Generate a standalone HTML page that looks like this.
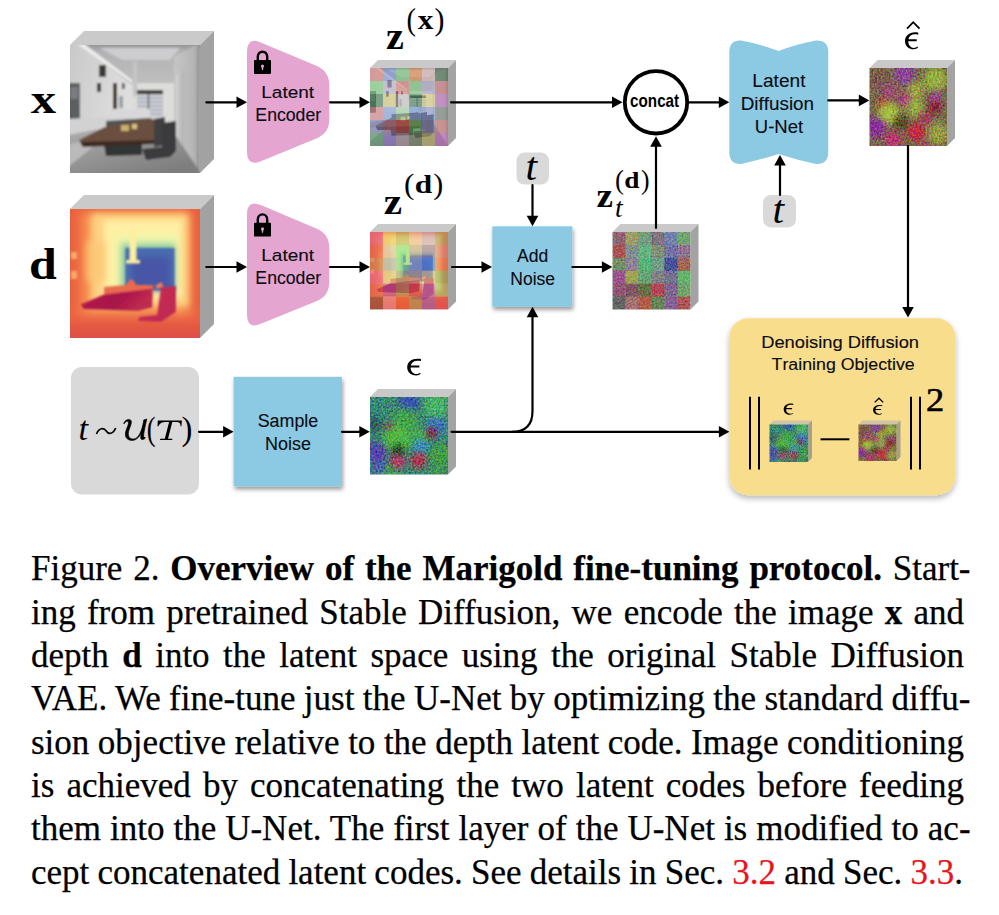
<!DOCTYPE html>
<html><head><meta charset="utf-8">
<style>
html,body{margin:0;padding:0;background:#fff;}
#root{position:relative;width:999px;height:915px;overflow:hidden;background:#fff;}
.cl{position:absolute;left:31px;font-family:"Liberation Serif",serif;font-size:35px;line-height:38px;color:#000;white-space:nowrap;-webkit-text-stroke:0.25px #000;}
.cl b{font-weight:bold;}
.r{color:#e8141c;-webkit-text-stroke-color:#e8141c;}
svg text{}
</style></head><body><div id="root">
<svg id="dg" width="999" height="520" viewBox="0 0 999 520" style="position:absolute;left:0;top:0">
<defs>
 <filter id="shadow" x="-10%" y="-10%" width="130%" height="130%"><feGaussianBlur in="SourceAlpha" stdDeviation="2"/><feOffset dx="1" dy="3"/><feComponentTransfer><feFuncA type="linear" slope="0.4"/></feComponentTransfer><feMerge><feMergeNode/><feMergeNode in="SourceGraphic"/></feMerge></filter>
<filter id="shadow2" x="-10%" y="-10%" width="130%" height="130%"><feGaussianBlur in="SourceAlpha" stdDeviation="3"/><feOffset dx="0" dy="3"/><feComponentTransfer><feFuncA type="linear" slope="0.3"/></feComponentTransfer><feMerge><feMergeNode/><feMergeNode in="SourceGraphic"/></feMerge></filter>
</defs>
<text transform="translate(30.80 113.40) scale(1.1943 1)" font-family="Liberation Serif" font-weight="bold" font-style="normal" font-size="42.49" fill="#000" style="font-kerning:none" >x</text>
<text transform="translate(28.88 279.18) scale(1.1488 1)" font-family="Liberation Serif" font-weight="bold" font-style="normal" font-size="43.49" fill="#000" style="font-kerning:none" >d</text>
<polygon points="70,45 84,31 214,31 200,45" fill="#cacaca"/>
<polygon points="200,45 214,31 214,159 200,173" fill="#a2a2a2"/>
<svg x="70" y="45" width="130" height="128" viewBox="0 0 100 100" preserveAspectRatio="none"></svg>

<svg x="70" y="45" width="130" height="128" viewBox="0 0 130 128" preserveAspectRatio="none" >
 <defs>
  <linearGradient id="kkfl" x1="0" y1="0" x2="0.6" y2="1">
   <stop offset="0" stop-color="#b4b4b4"/><stop offset="1" stop-color="#7e7e7e"/>
  </linearGradient>
  <linearGradient id="kkwall" x1="0" y1="0" x2="1" y2="0">
   <stop offset="0" stop-color="#c6c6c6"/><stop offset="0.8" stop-color="#b4b4b4"/><stop offset="1" stop-color="#8a8a8a"/>
  </linearGradient>
  <linearGradient id="kklw" x1="0" y1="0" x2="1" y2="0.3">
   <stop offset="0" stop-color="#c8c8c8"/><stop offset="1" stop-color="#dedede"/>
  </linearGradient>
  <linearGradient id="kkceil" x1="0" y1="0" x2="0" y2="1">
   <stop offset="0" stop-color="#8e8e8e"/><stop offset="0.12" stop-color="#b2b2b4"/><stop offset="1" stop-color="#cacac8"/>
  </linearGradient>
  <filter id="kkb" x="-5%" y="-5%" width="110%" height="110%"><feGaussianBlur stdDeviation="1.1"/></filter>
 </defs>
 <rect width="130" height="128" fill="#c8c8c8"/>
 <g filter="url(#kkb)">
 <rect x="-2" y="-2" width="134" height="70" fill="url(#kkceil)"/>
 <polygon points="30,3 110,3 100,15 52,15" fill="#cdcdd0"/>
 <rect x="62" y="38" width="44" height="40" fill="#dcdcda"/>
 <polygon points="-2,-2 8,-2 62,40 62,78 -2,80" fill="url(#kklw)"/>
 <polygon points="6,-2 13,-2 62,35 62,38" fill="#eeeeee"/>
 <rect x="-2" y="38" width="12" height="36" fill="#5c5e60"/>
 <rect x="0" y="42" width="8" height="12" fill="#7a7c80"/>
 <rect x="29" y="20" width="7" height="12" fill="#3e3a36"/>
 <rect x="27" y="38" width="4" height="9" fill="#2e2e2e"/>
 <rect x="43" y="38" width="4" height="27" fill="#3e2c22"/>
 <rect x="52" y="38" width="2.5" height="6" fill="#3a3a3a"/>
 <rect x="49" y="51" width="4" height="12" fill="#9aa0a8"/>
 <polygon points="104,12 130,-2 130,130 104,100" fill="url(#kkwall)"/>
 <line x1="107" y1="30" x2="107" y2="95" stroke="#d8d8d8" stroke-width="1.5"/>
 <line x1="113" y1="26" x2="113" y2="104" stroke="#a4a4a4" stroke-width="0.8"/>
 <rect x="63" y="17" width="4" height="34" fill="#c4c4c4"/>
 <rect x="67" y="45" width="26" height="4.5" fill="#3a3a3a"/>
 <rect x="67" y="49.5" width="26" height="24" fill="#cfd2d8"/>
 <g stroke="#9094a0" stroke-width="1">
  <line x1="67" y1="53" x2="93" y2="53"/><line x1="67" y1="57" x2="93" y2="57"/><line x1="67" y1="61" x2="93" y2="61"/><line x1="67" y1="65" x2="93" y2="65"/><line x1="67" y1="69" x2="93" y2="69"/>
 </g>
 <line x1="78.5" y1="49" x2="78.5" y2="74" stroke="#303030" stroke-width="1.2"/>
 <polygon points="-2,84 62,76 104,88 132,130 -2,130" fill="url(#kkfl)"/>
 <polygon points="-2,74 62,70 62,78 -2,90" fill="#d2d2d2"/>
 <polygon points="-2,100 40,88 -2,122" fill="#bababa"/>
 <rect x="40" y="64" width="40" height="9" fill="#d8d8da"/>
 <polygon points="36,76 80,73 80,82 36,84" fill="#505254"/>
 <polygon points="34,100 72,98 72,110 36,111" fill="#333435"/>
 <polygon points="9,95 35,82 80,73 84,75 84,98 12,100" fill="#6a5040"/>
 <polygon points="10,97 84,95 84,99 13,102" fill="#3e2c22"/>
 <rect x="51" y="80" width="8" height="6" fill="#c8b070"/><rect x="62" y="79" width="5" height="5" fill="#d8c080"/>
 <polygon points="84,74 95,72 95,100 84,102" fill="#404042"/>
 <polygon points="92,78 106,76 106,106 100,112 92,113" fill="#3a3b3c"/>
 <polygon points="72,104 92,102 92,113 76,115" fill="#3a3b3c"/>
 <line x1="74" y1="116" x2="100" y2="114" stroke="#8a8a8a" stroke-width="0.8"/>
 </g>
</svg>
<polygon points="70,209 84,195 214,195 200,209" fill="#cacaca"/>
<polygon points="200,209 214,195 214,324 200,338" fill="#a2a2a2"/>
<svg x="70" y="209" width="130" height="129" viewBox="0 0 100 100" preserveAspectRatio="none"></svg>

<svg x="70" y="209" width="130" height="129" viewBox="0 0 130 129" preserveAspectRatio="none" >
 <defs>
  <filter id="ddb5" x="-30%" y="-30%" width="160%" height="160%"><feGaussianBlur stdDeviation="5"/></filter>
  <filter id="ddb3" x="-30%" y="-30%" width="160%" height="160%"><feGaussianBlur stdDeviation="3"/></filter>
  <filter id="ddb1" x="-10%" y="-10%" width="120%" height="120%"><feGaussianBlur stdDeviation="0.9"/></filter>
  <linearGradient id="ddfl" x1="0" y1="0" x2="0" y2="1">
   <stop offset="0" stop-color="#ee7048" stop-opacity="0"/><stop offset="0.5" stop-color="#e65a42"/><stop offset="1" stop-color="#d84848"/>
  </linearGradient>
  <linearGradient id="ddtb" x1="0" y1="0" x2="1" y2="0.3">
   <stop offset="0" stop-color="#b8204c"/><stop offset="0.6" stop-color="#a8124a"/><stop offset="1" stop-color="#c02c50"/>
  </linearGradient>
 </defs>
 <rect width="130" height="129" fill="#e8603e"/>
 <g filter="url(#ddb5)">
  <rect x="8" y="2" width="114" height="112" fill="#f47e4a"/>
  <rect x="18" y="5" width="100" height="100" fill="#f9a85e"/>
 </g>
 <g filter="url(#ddb3)">
  <rect x="22" y="5" width="96" height="92" fill="#fdd080"/>
  <rect x="34" y="11" width="78" height="78" fill="#fef0a4"/>
  <rect x="46" y="26" width="62" height="58" fill="#eef6ac"/>
  <rect x="50" y="33" width="56" height="50" fill="#b8e2a2"/>
  <rect x="53" y="37" width="52" height="44" fill="#6cbaa8"/>
 </g>
 <g filter="url(#ddb1)">
  <rect x="55.5" y="39" width="49" height="42" fill="#4a6cb0"/>
 </g>
 <g filter="url(#ddb3)">
  <rect x="62" y="48" width="38" height="32" fill="#4656a6"/>
  <rect x="16" y="32" width="20" height="40" fill="#fbc878" opacity="0.7"/>
 </g>
 <g filter="url(#ddb1)">
  <rect x="1" y="43" width="6" height="7" fill="#f8a868"/>
  <rect x="1" y="62" width="6" height="8" fill="#f8a868"/>
  <rect x="59.5" y="20" width="7" height="34" fill="#fdeea0"/>
  <rect x="56" y="51" width="14" height="3.5" fill="#fdeea0"/>
  <rect x="-5" y="96" width="140" height="40" fill="url(#ddfl)"/>
  <polygon points="34,78 56,76 60,70 64,72 66,76 83,76 83,90 34,90" fill="#e96a4e"/>
  <polygon points="10.7,95.6 34,85.4 82.4,79.5 82.4,98.5 67.8,102 13.6,100" fill="url(#ddtb)"/>
  <polygon points="86,76 92,73 93,78 86,80" fill="#f07a58"/>
  <polygon points="91,78 106,77 106,103 91,113 68,112 69,108 87,106" fill="#c22a52"/>
 </g>
</svg>
<path d="M247.00,51.60 Q247.00,36.60 260.83,42.40 L316.39,65.69 Q329.30,71.10 329.30,85.10 L329.30,119.20 Q329.30,133.20 316.34,138.49 L260.89,161.13 Q247.00,166.80 247.00,151.80 Z" fill="#e4a5d0" />
<path d="M257.8,60.5 L257.8,56.7 A4.7,5 0 0 1 267.2,56.7 L267.2,60.5" fill="none" stroke="#000" stroke-width="2.4"/><rect x="254" y="60.1" width="17" height="13.8" rx="0.8" fill="#000"/><circle cx="262.5" cy="66.1" r="1.5" fill="#e4a5d0"/><polygon points="261.6,66.3 263.4,66.3 263.1,70.1 261.9,70.1" fill="#e4a5d0"/>
<text transform="translate(261.24 97.80) scale(1.1093 1)" font-family="Liberation Sans" font-weight="normal" font-style="normal" font-size="17.15" fill="#0d0d14" style="font-kerning:none" stroke="#000" stroke-width="0.12">Latent</text>
<text transform="translate(255.35 120.80) scale(0.9704 1)" font-family="Liberation Sans" font-weight="normal" font-style="normal" font-size="18.22" fill="#0d0d14" style="font-kerning:none" stroke="#000" stroke-width="0.12">Encoder</text>
<path d="M247.00,214.30 Q247.00,199.30 260.83,205.10 L316.39,228.39 Q329.30,233.80 329.30,247.80 L329.30,281.90 Q329.30,295.90 316.34,301.19 L260.89,323.83 Q247.00,329.50 247.00,314.50 Z" fill="#e4a5d0" />
<path d="M257.8,223.2 L257.8,219.39999999999998 A4.7,5 0 0 1 267.2,219.39999999999998 L267.2,223.2" fill="none" stroke="#000" stroke-width="2.4"/><rect x="254" y="222.79999999999998" width="17" height="13.8" rx="0.8" fill="#000"/><circle cx="262.5" cy="228.79999999999998" r="1.5" fill="#e4a5d0"/><polygon points="261.6,229.0 263.4,229.0 263.1,232.79999999999998 261.9,232.79999999999998" fill="#e4a5d0"/>
<text transform="translate(261.24 260.50) scale(1.1093 1)" font-family="Liberation Sans" font-weight="normal" font-style="normal" font-size="17.15" fill="#0d0d14" style="font-kerning:none" stroke="#000" stroke-width="0.12">Latent</text>
<text transform="translate(255.35 283.50) scale(0.9704 1)" font-family="Liberation Sans" font-weight="normal" font-style="normal" font-size="18.22" fill="#0d0d14" style="font-kerning:none" stroke="#000" stroke-width="0.12">Encoder</text>
<polygon points="370,68 378,60 456,60 448,68" fill="#c9c9c9"/>
<polygon points="448,68 456,60 456,138 448,146" fill="#a3a3a3"/>
<svg x="370" y="68" width="78" height="78" viewBox="0 0 100 100" preserveAspectRatio="none"><rect x="0.000" y="0.000" width="16.967" height="16.967" fill="#d87a78"/><rect x="16.667" y="0.000" width="16.967" height="16.967" fill="#7b93d6"/><rect x="33.333" y="0.000" width="16.967" height="16.967" fill="#73c477"/><rect x="50.000" y="0.000" width="16.967" height="16.967" fill="#e0843f"/><rect x="66.667" y="0.000" width="16.967" height="16.967" fill="#d8b3b3"/><rect x="83.333" y="0.000" width="16.967" height="16.967" fill="#3f6a45"/><rect x="0.000" y="16.667" width="16.967" height="16.967" fill="#78d27c"/><rect x="16.667" y="16.667" width="16.967" height="16.967" fill="#b9b3d6"/><rect x="33.333" y="16.667" width="16.967" height="16.967" fill="#d87a74"/><rect x="50.000" y="16.667" width="16.967" height="16.967" fill="#74c878"/><rect x="66.667" y="16.667" width="16.967" height="16.967" fill="#aaa3c4"/><rect x="83.333" y="16.667" width="16.967" height="16.967" fill="#d27478"/><rect x="0.000" y="33.333" width="16.967" height="16.967" fill="#3f8052"/><rect x="16.667" y="33.333" width="16.967" height="16.967" fill="#d8cc78"/><rect x="33.333" y="33.333" width="16.967" height="16.967" fill="#c8c4c4"/><rect x="50.000" y="33.333" width="16.967" height="16.967" fill="#4f8a62"/><rect x="66.667" y="33.333" width="16.967" height="16.967" fill="#d8cc7a"/><rect x="83.333" y="33.333" width="16.967" height="16.967" fill="#c874c8"/><rect x="0.000" y="50.000" width="16.967" height="16.967" fill="#d88486"/><rect x="16.667" y="50.000" width="16.967" height="16.967" fill="#84a4e0"/><rect x="33.333" y="50.000" width="16.967" height="16.967" fill="#a8d4a8"/><rect x="50.000" y="50.000" width="16.967" height="16.967" fill="#6a94d6"/><rect x="66.667" y="50.000" width="16.967" height="16.967" fill="#8a98d6"/><rect x="83.333" y="50.000" width="16.967" height="16.967" fill="#7e8a80"/><rect x="0.000" y="66.667" width="16.967" height="16.967" fill="#7a7fb6"/><rect x="16.667" y="66.667" width="16.967" height="16.967" fill="#a06a86"/><rect x="33.333" y="66.667" width="16.967" height="16.967" fill="#c04848"/><rect x="50.000" y="66.667" width="16.967" height="16.967" fill="#52a456"/><rect x="66.667" y="66.667" width="16.967" height="16.967" fill="#8a86b8"/><rect x="83.333" y="66.667" width="16.967" height="16.967" fill="#d07676"/><rect x="0.000" y="83.333" width="16.967" height="16.967" fill="#549a66"/><rect x="16.667" y="83.333" width="16.967" height="16.967" fill="#8266c4"/><rect x="33.333" y="83.333" width="16.967" height="16.967" fill="#a48896"/><rect x="50.000" y="83.333" width="16.967" height="16.967" fill="#687a56"/><rect x="66.667" y="83.333" width="16.967" height="16.967" fill="#c2b464"/><rect x="83.333" y="83.333" width="16.967" height="16.967" fill="#c668c6"/>
<svg x="0" y="0" width="100" height="100" viewBox="0 0 130 128" preserveAspectRatio="none" opacity="0.42">
 <defs>
  <linearGradient id="k2kfl" x1="0" y1="0" x2="0.6" y2="1">
   <stop offset="0" stop-color="#b4b4b4"/><stop offset="1" stop-color="#7e7e7e"/>
  </linearGradient>
  <linearGradient id="k2kwall" x1="0" y1="0" x2="1" y2="0">
   <stop offset="0" stop-color="#c6c6c6"/><stop offset="0.8" stop-color="#b4b4b4"/><stop offset="1" stop-color="#8a8a8a"/>
  </linearGradient>
  <linearGradient id="k2klw" x1="0" y1="0" x2="1" y2="0.3">
   <stop offset="0" stop-color="#c8c8c8"/><stop offset="1" stop-color="#dedede"/>
  </linearGradient>
  <linearGradient id="k2kceil" x1="0" y1="0" x2="0" y2="1">
   <stop offset="0" stop-color="#8e8e8e"/><stop offset="0.12" stop-color="#b2b2b4"/><stop offset="1" stop-color="#cacac8"/>
  </linearGradient>
  <filter id="k2kb" x="-5%" y="-5%" width="110%" height="110%"><feGaussianBlur stdDeviation="1.1"/></filter>
 </defs>
 <rect width="130" height="128" fill="#c8c8c8"/>
 <g filter="url(#k2kb)">
 <rect x="-2" y="-2" width="134" height="70" fill="url(#k2kceil)"/>
 <polygon points="30,3 110,3 100,15 52,15" fill="#cdcdd0"/>
 <rect x="62" y="38" width="44" height="40" fill="#dcdcda"/>
 <polygon points="-2,-2 8,-2 62,40 62,78 -2,80" fill="url(#k2klw)"/>
 <polygon points="6,-2 13,-2 62,35 62,38" fill="#eeeeee"/>
 <rect x="-2" y="38" width="12" height="36" fill="#5c5e60"/>
 <rect x="0" y="42" width="8" height="12" fill="#7a7c80"/>
 <rect x="29" y="20" width="7" height="12" fill="#3e3a36"/>
 <rect x="27" y="38" width="4" height="9" fill="#2e2e2e"/>
 <rect x="43" y="38" width="4" height="27" fill="#3e2c22"/>
 <rect x="52" y="38" width="2.5" height="6" fill="#3a3a3a"/>
 <rect x="49" y="51" width="4" height="12" fill="#9aa0a8"/>
 <polygon points="104,12 130,-2 130,130 104,100" fill="url(#k2kwall)"/>
 <line x1="107" y1="30" x2="107" y2="95" stroke="#d8d8d8" stroke-width="1.5"/>
 <line x1="113" y1="26" x2="113" y2="104" stroke="#a4a4a4" stroke-width="0.8"/>
 <rect x="63" y="17" width="4" height="34" fill="#c4c4c4"/>
 <rect x="67" y="45" width="26" height="4.5" fill="#3a3a3a"/>
 <rect x="67" y="49.5" width="26" height="24" fill="#cfd2d8"/>
 <g stroke="#9094a0" stroke-width="1">
  <line x1="67" y1="53" x2="93" y2="53"/><line x1="67" y1="57" x2="93" y2="57"/><line x1="67" y1="61" x2="93" y2="61"/><line x1="67" y1="65" x2="93" y2="65"/><line x1="67" y1="69" x2="93" y2="69"/>
 </g>
 <line x1="78.5" y1="49" x2="78.5" y2="74" stroke="#303030" stroke-width="1.2"/>
 <polygon points="-2,84 62,76 104,88 132,130 -2,130" fill="url(#k2kfl)"/>
 <polygon points="-2,74 62,70 62,78 -2,90" fill="#d2d2d2"/>
 <polygon points="-2,100 40,88 -2,122" fill="#bababa"/>
 <rect x="40" y="64" width="40" height="9" fill="#d8d8da"/>
 <polygon points="36,76 80,73 80,82 36,84" fill="#505254"/>
 <polygon points="34,100 72,98 72,110 36,111" fill="#333435"/>
 <polygon points="9,95 35,82 80,73 84,75 84,98 12,100" fill="#6a5040"/>
 <polygon points="10,97 84,95 84,99 13,102" fill="#3e2c22"/>
 <rect x="51" y="80" width="8" height="6" fill="#c8b070"/><rect x="62" y="79" width="5" height="5" fill="#d8c080"/>
 <polygon points="84,74 95,72 95,100 84,102" fill="#404042"/>
 <polygon points="92,78 106,76 106,106 100,112 92,113" fill="#3a3b3c"/>
 <polygon points="72,104 92,102 92,113 76,115" fill="#3a3b3c"/>
 <line x1="74" y1="116" x2="100" y2="114" stroke="#8a8a8a" stroke-width="0.8"/>
 </g>
</svg></svg>
<polygon points="370,232 378,224 456,224 448,232" fill="#c9c9c9"/>
<polygon points="448,232 456,224 456,301.5 448,309.5" fill="#a3a3a3"/>
<svg x="370" y="232" width="78" height="77.5" viewBox="0 0 100 100" preserveAspectRatio="none"><rect x="0.000" y="0.000" width="16.967" height="16.967" fill="#e66494"/><rect x="16.667" y="0.000" width="16.967" height="16.967" fill="#e8c864"/><rect x="33.333" y="0.000" width="16.967" height="16.967" fill="#b4b460"/><rect x="50.000" y="0.000" width="16.967" height="16.967" fill="#e8b8a0"/><rect x="66.667" y="0.000" width="16.967" height="16.967" fill="#c4a4cc"/><rect x="83.333" y="0.000" width="16.967" height="16.967" fill="#a4a464"/><rect x="0.000" y="16.667" width="16.967" height="16.967" fill="#e46652"/><rect x="16.667" y="16.667" width="16.967" height="16.967" fill="#d4c4b4"/><rect x="33.333" y="16.667" width="16.967" height="16.967" fill="#84e084"/><rect x="50.000" y="16.667" width="16.967" height="16.967" fill="#c4a494"/><rect x="66.667" y="16.667" width="16.967" height="16.967" fill="#9474a4"/><rect x="83.333" y="16.667" width="16.967" height="16.967" fill="#d48484"/><rect x="0.000" y="33.333" width="16.967" height="16.967" fill="#c48454"/><rect x="16.667" y="33.333" width="16.967" height="16.967" fill="#a4b4c4"/><rect x="33.333" y="33.333" width="16.967" height="16.967" fill="#84d484"/><rect x="50.000" y="33.333" width="16.967" height="16.967" fill="#94a4c4"/><rect x="66.667" y="33.333" width="16.967" height="16.967" fill="#5484d8"/><rect x="83.333" y="33.333" width="16.967" height="16.967" fill="#e47454"/><rect x="0.000" y="50.000" width="16.967" height="16.967" fill="#e66494"/><rect x="16.667" y="50.000" width="16.967" height="16.967" fill="#d4c484"/><rect x="33.333" y="50.000" width="16.967" height="16.967" fill="#a4a474"/><rect x="50.000" y="50.000" width="16.967" height="16.967" fill="#c4a484"/><rect x="66.667" y="50.000" width="16.967" height="16.967" fill="#e4c484"/><rect x="83.333" y="50.000" width="16.967" height="16.967" fill="#84b464"/><rect x="0.000" y="66.667" width="16.967" height="16.967" fill="#e46652"/><rect x="16.667" y="66.667" width="16.967" height="16.967" fill="#b45494"/><rect x="33.333" y="66.667" width="16.967" height="16.967" fill="#a49454"/><rect x="50.000" y="66.667" width="16.967" height="16.967" fill="#cc4444"/><rect x="66.667" y="66.667" width="16.967" height="16.967" fill="#b474b4"/><rect x="83.333" y="66.667" width="16.967" height="16.967" fill="#94cc74"/><rect x="0.000" y="83.333" width="16.967" height="16.967" fill="#845434"/><rect x="16.667" y="83.333" width="16.967" height="16.967" fill="#e89494"/><rect x="33.333" y="83.333" width="16.967" height="16.967" fill="#e86434"/><rect x="50.000" y="83.333" width="16.967" height="16.967" fill="#a4a454"/><rect x="66.667" y="83.333" width="16.967" height="16.967" fill="#9464b4"/><rect x="83.333" y="83.333" width="16.967" height="16.967" fill="#e45454"/>
<svg x="0" y="0" width="100" height="100" viewBox="0 0 130 129" preserveAspectRatio="none" opacity="0.42">
 <defs>
  <filter id="d2db5" x="-30%" y="-30%" width="160%" height="160%"><feGaussianBlur stdDeviation="5"/></filter>
  <filter id="d2db3" x="-30%" y="-30%" width="160%" height="160%"><feGaussianBlur stdDeviation="3"/></filter>
  <filter id="d2db1" x="-10%" y="-10%" width="120%" height="120%"><feGaussianBlur stdDeviation="0.9"/></filter>
  <linearGradient id="d2dfl" x1="0" y1="0" x2="0" y2="1">
   <stop offset="0" stop-color="#ee7048" stop-opacity="0"/><stop offset="0.5" stop-color="#e65a42"/><stop offset="1" stop-color="#d84848"/>
  </linearGradient>
  <linearGradient id="d2dtb" x1="0" y1="0" x2="1" y2="0.3">
   <stop offset="0" stop-color="#b8204c"/><stop offset="0.6" stop-color="#a8124a"/><stop offset="1" stop-color="#c02c50"/>
  </linearGradient>
 </defs>
 <rect width="130" height="129" fill="#e8603e"/>
 <g filter="url(#d2db5)">
  <rect x="8" y="2" width="114" height="112" fill="#f47e4a"/>
  <rect x="18" y="5" width="100" height="100" fill="#f9a85e"/>
 </g>
 <g filter="url(#d2db3)">
  <rect x="22" y="5" width="96" height="92" fill="#fdd080"/>
  <rect x="34" y="11" width="78" height="78" fill="#fef0a4"/>
  <rect x="46" y="26" width="62" height="58" fill="#eef6ac"/>
  <rect x="50" y="33" width="56" height="50" fill="#b8e2a2"/>
  <rect x="53" y="37" width="52" height="44" fill="#6cbaa8"/>
 </g>
 <g filter="url(#d2db1)">
  <rect x="55.5" y="39" width="49" height="42" fill="#4a6cb0"/>
 </g>
 <g filter="url(#d2db3)">
  <rect x="62" y="48" width="38" height="32" fill="#4656a6"/>
  <rect x="16" y="32" width="20" height="40" fill="#fbc878" opacity="0.7"/>
 </g>
 <g filter="url(#d2db1)">
  <rect x="1" y="43" width="6" height="7" fill="#f8a868"/>
  <rect x="1" y="62" width="6" height="8" fill="#f8a868"/>
  <rect x="59.5" y="20" width="7" height="34" fill="#fdeea0"/>
  <rect x="56" y="51" width="14" height="3.5" fill="#fdeea0"/>
  <rect x="-5" y="96" width="140" height="40" fill="url(#d2dfl)"/>
  <polygon points="34,78 56,76 60,70 64,72 66,76 83,76 83,90 34,90" fill="#e96a4e"/>
  <polygon points="10.7,95.6 34,85.4 82.4,79.5 82.4,98.5 67.8,102 13.6,100" fill="url(#d2dtb)"/>
  <polygon points="86,76 92,73 93,78 86,80" fill="#f07a58"/>
  <polygon points="91,78 106,77 106,103 91,113 68,112 69,108 87,106" fill="#c22a52"/>
 </g>
</svg></svg>
<polygon points="612.5,232 620.5,224 698.5,224 690.5,232" fill="#c9c9c9"/>
<polygon points="690.5,232 698.5,224 698.5,301.5 690.5,309.5" fill="#a3a3a3"/>
<svg x="612.5" y="232" width="78" height="77.5" viewBox="0 0 100 100" preserveAspectRatio="none"><filter id="ztn" x="0" y="0" width="100" height="100" filterUnits="userSpaceOnUse" color-interpolation-filters="sRGB"><feGaussianBlur in="SourceGraphic" stdDeviation="0.8" result="b"/><feTurbulence type="fractalNoise" baseFrequency="0.45" numOctaves="2" seed="11" result="t"/><feColorMatrix in="t" type="matrix" values="1.3 0 0 0 -0.15000000000000002  0 1.3 0 0 -0.15000000000000002  0 0 1.3 0 -0.15000000000000002  0 0 0 0 1" result="tc"/><feBlend in="tc" in2="b" mode="soft-light"/></filter><g filter="url(#ztn)"><rect x="0.000" y="0.000" width="16.967" height="16.967" fill="#916473"/><rect x="16.667" y="0.000" width="16.967" height="16.967" fill="#9f9f64"/><rect x="33.333" y="0.000" width="16.967" height="16.967" fill="#739f80"/><rect x="50.000" y="0.000" width="16.967" height="16.967" fill="#837383"/><rect x="66.667" y="0.000" width="16.967" height="16.967" fill="#7383ae"/><rect x="83.333" y="0.000" width="16.967" height="16.967" fill="#72a672"/><rect x="0.000" y="16.667" width="16.967" height="16.967" fill="#ae5255"/><rect x="16.667" y="16.667" width="16.967" height="16.967" fill="#839191"/><rect x="33.333" y="16.667" width="16.967" height="16.967" fill="#64b683"/><rect x="50.000" y="16.667" width="16.967" height="16.967" fill="#839173"/><rect x="66.667" y="16.667" width="16.967" height="16.967" fill="#7373a6"/><rect x="83.333" y="16.667" width="16.967" height="16.967" fill="#917391"/><rect x="0.000" y="33.333" width="16.967" height="16.967" fill="#739164"/><rect x="16.667" y="33.333" width="16.967" height="16.967" fill="#918398"/><rect x="33.333" y="33.333" width="16.967" height="16.967" fill="#52b678"/><rect x="50.000" y="33.333" width="16.967" height="16.967" fill="#729f88"/><rect x="66.667" y="33.333" width="16.967" height="16.967" fill="#45529f"/><rect x="83.333" y="33.333" width="16.967" height="16.967" fill="#a66455"/><rect x="0.000" y="50.000" width="16.967" height="16.967" fill="#9f5290"/><rect x="16.667" y="50.000" width="16.967" height="16.967" fill="#9fa655"/><rect x="33.333" y="50.000" width="16.967" height="16.967" fill="#64a673"/><rect x="50.000" y="50.000" width="16.967" height="16.967" fill="#838383"/><rect x="66.667" y="50.000" width="16.967" height="16.967" fill="#737391"/><rect x="83.333" y="50.000" width="16.967" height="16.967" fill="#62b66a"/><rect x="0.000" y="66.667" width="16.967" height="16.967" fill="#915573"/><rect x="16.667" y="66.667" width="16.967" height="16.967" fill="#835564"/><rect x="33.333" y="66.667" width="16.967" height="16.967" fill="#647345"/><rect x="50.000" y="66.667" width="16.967" height="16.967" fill="#b64555"/><rect x="66.667" y="66.667" width="16.967" height="16.967" fill="#836491"/><rect x="83.333" y="66.667" width="16.967" height="16.967" fill="#73a66a"/><rect x="0.000" y="83.333" width="16.967" height="16.967" fill="#646464"/><rect x="16.667" y="83.333" width="16.967" height="16.967" fill="#a67373"/><rect x="33.333" y="83.333" width="16.967" height="16.967" fill="#b65a45"/><rect x="50.000" y="83.333" width="16.967" height="16.967" fill="#648855"/><rect x="66.667" y="83.333" width="16.967" height="16.967" fill="#836498"/><rect x="83.333" y="83.333" width="16.967" height="16.967" fill="#ae5555"/></g></svg>
<polygon points="869.5,68 877.5,60 955.0,60 947.0,68" fill="#c9c9c9"/>
<polygon points="947.0,68 955.0,60 955.0,138 947.0,146" fill="#a3a3a3"/>
<svg x="869.5" y="68" width="77.5" height="78" viewBox="0 0 100 100" preserveAspectRatio="none"><filter id="ehb" x="-10" y="-10" width="120" height="120" filterUnits="userSpaceOnUse" color-interpolation-filters="sRGB"><feGaussianBlur in="SourceGraphic" stdDeviation="4" result="b"/><feTurbulence type="fractalNoise" baseFrequency="0.4" numOctaves="2" seed="5" result="t"/><feColorMatrix in="t" type="matrix" values="1.6 0 0 0 -0.30000000000000004  0 1.6 0 0 -0.30000000000000004  0 0 1.6 0 -0.30000000000000004  0 0 0 0 1" result="tc"/><feBlend in="tc" in2="b" mode="soft-light"/></filter><g filter="url(#ehb)"><rect x="-10" y="-10" width="120" height="120" fill="#786a48"/><circle cx="12" cy="14" r="14" fill="#7a5a48"/><circle cx="45" cy="8" r="13" fill="#9040a0"/><circle cx="85" cy="14" r="15" fill="#98b040"/><circle cx="60" cy="28" r="11" fill="#a0a840"/><circle cx="25" cy="30" r="10" fill="#a04878"/><circle cx="85" cy="38" r="8" fill="#a040a0"/><circle cx="18" cy="46" r="7" fill="#c03030"/><circle cx="25" cy="58" r="14" fill="#a8c040"/><circle cx="58" cy="50" r="12" fill="#98b040"/><circle cx="84" cy="50" r="8" fill="#901030"/><circle cx="8" cy="76" r="13" fill="#8a2aa0"/><circle cx="40" cy="70" r="9" fill="#504018"/><circle cx="60" cy="82" r="11" fill="#d02040"/><circle cx="45" cy="40" r="8" fill="#b04080"/><circle cx="30" cy="92" r="11" fill="#c03070"/><circle cx="88" cy="84" r="14" fill="#98a040"/><circle cx="70" cy="98" r="8" fill="#9a4a60"/><circle cx="72" cy="65" r="8" fill="#b03060"/></g></svg>
<polygon points="370,397 378,389 456,389 448,397" fill="#c9c9c9"/>
<polygon points="448,397 456,389 456,466.5 448,474.5" fill="#a3a3a3"/>
<svg x="370" y="397" width="78" height="77.5" viewBox="0 0 100 100" preserveAspectRatio="none"><filter id="epb" x="-10" y="-10" width="120" height="120" filterUnits="userSpaceOnUse" color-interpolation-filters="sRGB"><feGaussianBlur in="SourceGraphic" stdDeviation="4" result="b"/><feTurbulence type="fractalNoise" baseFrequency="0.4" numOctaves="2" seed="2" result="t"/><feColorMatrix in="t" type="matrix" values="1.6 0 0 0 -0.30000000000000004  0 1.6 0 0 -0.30000000000000004  0 0 1.6 0 -0.30000000000000004  0 0 0 0 1" result="tc"/><feBlend in="tc" in2="b" mode="soft-light"/></filter><g filter="url(#epb)"><rect x="-10" y="-10" width="120" height="120" fill="#3a8870"/><circle cx="10" cy="12" r="14" fill="#328a77"/><circle cx="50" cy="8" r="13" fill="#3651b5"/><circle cx="85" cy="12" r="16" fill="#47b567"/><circle cx="5" cy="35" r="10" fill="#2b585f"/><circle cx="45" cy="30" r="16" fill="#41a54b"/><circle cx="85" cy="38" r="13" fill="#3776bd"/><circle cx="25" cy="40" r="7" fill="#943e42"/><circle cx="35" cy="55" r="18" fill="#4eb942"/><circle cx="65" cy="50" r="10" fill="#4bb04b"/><circle cx="79" cy="46" r="7" fill="#961640"/><circle cx="8" cy="72" r="14" fill="#5142ae"/><circle cx="36" cy="69" r="8" fill="#1e3e1f"/><circle cx="65" cy="64" r="10" fill="#3490be"/><circle cx="35" cy="84" r="10" fill="#bc346a"/><circle cx="62" cy="82" r="10" fill="#bc2b4a"/><circle cx="90" cy="75" r="14" fill="#419e41"/><circle cx="88" cy="96" r="10" fill="#3f9851"/><circle cx="28" cy="97" r="8" fill="#41a54a"/><circle cx="10" cy="92" r="8" fill="#4d5cb5"/></g></svg>
<rect x="492.3" y="226.3" width="80" height="80.4" fill="#8ccae3" filter="url(#shadow)"/>
<text transform="translate(517.07 261.90) scale(0.9227 1)" font-family="Liberation Sans" font-weight="normal" font-style="normal" font-size="19.04" fill="#0d0d14" style="font-kerning:none" stroke="#000" stroke-width="0.12">Add</text>
<text transform="translate(510.26 284.90) scale(0.9696 1)" font-family="Liberation Sans" font-weight="normal" font-style="normal" font-size="18.08" fill="#0d0d14" style="font-kerning:none" stroke="#000" stroke-width="0.12">Noise</text>
<rect x="233.6" y="376.8" width="108.3" height="109.6" fill="#8ccae3" filter="url(#shadow)"/>
<text transform="translate(257.69 426.60) scale(0.9594 1)" font-family="Liberation Sans" font-weight="normal" font-style="normal" font-size="18.63" fill="#0d0d14" style="font-kerning:none" stroke="#000" stroke-width="0.12">Sample</text>
<text transform="translate(265.12 449.60) scale(0.9652 1)" font-family="Liberation Sans" font-weight="normal" font-style="normal" font-size="18.63" fill="#0d0d14" style="font-kerning:none" stroke="#000" stroke-width="0.12">Noise</text>
<path d="M729.3,52 Q729.3,40 741,40.5 Q760,44 778.5,51 Q797,44 816,40.5 Q828.3,40 828.3,52 L828.3,152 Q828.3,164.5 816,164 Q797,160 778.5,154 Q760,160 741,164 Q729.3,164.5 729.3,152 Z" fill="#8ccae3"/>
<text transform="translate(752.33 86.80) scale(1.0684 1)" font-family="Liberation Sans" font-weight="normal" font-style="normal" font-size="17.88" fill="#0d0d14" style="font-kerning:none" stroke="#000" stroke-width="0.12">Latent</text>
<text transform="translate(740.65 109.60) scale(1.0137 1)" font-family="Liberation Sans" font-weight="normal" font-style="normal" font-size="18.63" fill="#0d0d14" style="font-kerning:none" stroke="#000" stroke-width="0.12">Diffusion</text>
<text transform="translate(754.77 132.60) scale(1.0113 1)" font-family="Liberation Sans" font-weight="normal" font-style="normal" font-size="18.31" fill="#0d0d14" style="font-kerning:none" stroke="#000" stroke-width="0.12">U-Net</text>
<rect x="71" y="367" width="128" height="127.5" rx="11" fill="#d9d9d9"/>
<rect x="516.5" y="152.6" width="32.5" height="32" rx="8" fill="#d9d9d9"/>
<rect x="763" y="195" width="33" height="32.4" rx="8" fill="#d9d9d9"/>
<text transform="translate(525.44 180.11) scale(1.0500 1)" font-family="Liberation Serif" font-weight="normal" font-style="italic" font-size="39.63" fill="#000" style="font-kerning:none" >t</text>
<text transform="translate(772.49 222.91) scale(1.0500 1)" font-family="Liberation Serif" font-weight="normal" font-style="italic" font-size="39.63" fill="#000" style="font-kerning:none" >t</text>
<text transform="translate(78.46 439.78) scale(1.0500 1)" font-family="Liberation Serif" font-weight="normal" font-style="italic" font-size="32.82" fill="#000" style="font-kerning:none" >t</text>
<path d="M96.5,434 C99,427.5 104,427.5 106.2,431 C108.5,434.5 113,434.5 115.7,428" fill="none" stroke="#000" stroke-width="1.7"/>
<path transform="translate(123.4 418.7) scale(1.0000 1.0000)" d="M0.3,4.8 C1.5,1.2 5,0 7,1.2 C8.6,2.3 8,5 6.6,8.5 C5.4,11.5 4.6,14 5,16.5 C5.6,19.8 8.4,20.6 10.8,20.2 C15,19.5 18.6,13 20.4,1.2 L23.4,0.4 C22,6 20.6,13 20.2,16.4 C20,18.2 20.6,19.2 21.6,18.6 L22,19.3 C20.4,21 17.4,21.8 17.3,19 C17.3,17.6 17.6,16 18,14.4 C15.8,18.6 12.6,21.7 8.8,21.7 C4.4,21.7 2,19.2 2,15.6 C2,12.6 3.6,9.4 4.6,6.6 C5.4,4.2 5.2,2.6 4,2.6 C2.6,2.6 1.4,3.8 0.9,5 Z" fill="#000" stroke="#000" stroke-width="0.7"/>
<text transform="translate(146.64 440.12) scale(0.7845 1)" font-family="Liberation Serif" font-weight="normal" font-style="normal" font-size="33.75" fill="#000" style="font-kerning:none" >(</text>
<path d="M157.8,420.6 L181.9,420.6 L181.4,426.2 L180.6,426.2 C180.5,422.5 179,422 175,422 L172.3,422 L168,438.7 L172.4,438.7 L172.1,440.1 L160,440.1 L160.3,438.7 L164.8,438.7 L169.1,422 L166.4,422 C161.8,422 160.4,422.8 158.4,426.2 L157.5,426.2 Z" fill="#000"/>
<text transform="translate(181.55 440.12) scale(0.9691 1)" font-family="Liberation Serif" font-weight="normal" font-style="normal" font-size="33.75" fill="#000" style="font-kerning:none" >)</text>
<rect x="729.4" y="318.2" width="226" height="177" rx="19" fill="#f8dd8c" filter="url(#shadow2)"/>
<text transform="translate(761.20 347.50) scale(1.1166 1)" font-family="Liberation Sans" font-weight="normal" font-style="normal" font-size="16.42" fill="#0d0d14" style="font-kerning:none" stroke="#000" stroke-width="0.12">Denoising Diffusion</text>
<text transform="translate(771.60 369.60) scale(1.1301 1)" font-family="Liberation Sans" font-weight="normal" font-style="normal" font-size="15.73" fill="#0d0d14" style="font-kerning:none" stroke="#000" stroke-width="0.12">Training Objective</text>
<line x1="750" y1="396.7" x2="750" y2="469.6" stroke="#000" stroke-width="2"/>
<line x1="759" y1="396.7" x2="759" y2="469.6" stroke="#000" stroke-width="2"/>
<line x1="911" y1="396.7" x2="911" y2="469.6" stroke="#000" stroke-width="2"/>
<line x1="920" y1="396.7" x2="920" y2="469.6" stroke="#000" stroke-width="2"/>
<line x1="820.5" y1="439.3" x2="849.4" y2="439.3" stroke="#000" stroke-width="2"/>
<polygon points="769.5,424.5 773.5,420.5 812.0,420.5 808.0,424.5" fill="#cdc6a6"/>
<polygon points="808.0,424.5 812.0,420.5 812.0,458.0 808.0,462.0" fill="#a6a28a"/>
<svg x="769.5" y="424.5" width="38.5" height="37.5" viewBox="0 0 100 100" preserveAspectRatio="none"><filter id="ep2b" x="-10" y="-10" width="120" height="120" filterUnits="userSpaceOnUse" color-interpolation-filters="sRGB"><feGaussianBlur in="SourceGraphic" stdDeviation="5" result="b"/><feTurbulence type="fractalNoise" baseFrequency="0.7" numOctaves="2" seed="2" result="t"/><feColorMatrix in="t" type="matrix" values="1.4 0 0 0 -0.19999999999999996  0 1.4 0 0 -0.19999999999999996  0 0 1.4 0 -0.19999999999999996  0 0 0 0 1" result="tc"/><feBlend in="tc" in2="b" mode="soft-light"/></filter><g filter="url(#ep2b)"><rect x="-10" y="-10" width="120" height="120" fill="#3a8870"/><circle cx="10" cy="12" r="14" fill="#328a77"/><circle cx="50" cy="8" r="13" fill="#3651b5"/><circle cx="85" cy="12" r="16" fill="#47b567"/><circle cx="5" cy="35" r="10" fill="#2b585f"/><circle cx="45" cy="30" r="16" fill="#41a54b"/><circle cx="85" cy="38" r="13" fill="#3776bd"/><circle cx="25" cy="40" r="7" fill="#943e42"/><circle cx="35" cy="55" r="18" fill="#4eb942"/><circle cx="65" cy="50" r="10" fill="#4bb04b"/><circle cx="79" cy="46" r="7" fill="#961640"/><circle cx="8" cy="72" r="14" fill="#5142ae"/><circle cx="36" cy="69" r="8" fill="#1e3e1f"/><circle cx="65" cy="64" r="10" fill="#3490be"/><circle cx="35" cy="84" r="10" fill="#bc346a"/><circle cx="62" cy="82" r="10" fill="#bc2b4a"/><circle cx="90" cy="75" r="14" fill="#419e41"/><circle cx="88" cy="96" r="10" fill="#3f9851"/><circle cx="28" cy="97" r="8" fill="#41a54a"/><circle cx="10" cy="92" r="8" fill="#4d5cb5"/></g></svg>
<polygon points="858.5,424.5 862.5,420.5 900.5,420.5 896.5,424.5" fill="#cdc6a6"/>
<polygon points="896.5,424.5 900.5,420.5 900.5,457.0 896.5,461.0" fill="#a6a28a"/>
<svg x="858.5" y="424.5" width="38" height="36.5" viewBox="0 0 100 100" preserveAspectRatio="none"><filter id="eh2b" x="-10" y="-10" width="120" height="120" filterUnits="userSpaceOnUse" color-interpolation-filters="sRGB"><feGaussianBlur in="SourceGraphic" stdDeviation="5" result="b"/><feTurbulence type="fractalNoise" baseFrequency="0.7" numOctaves="2" seed="5" result="t"/><feColorMatrix in="t" type="matrix" values="1.4 0 0 0 -0.19999999999999996  0 1.4 0 0 -0.19999999999999996  0 0 1.4 0 -0.19999999999999996  0 0 0 0 1" result="tc"/><feBlend in="tc" in2="b" mode="soft-light"/></filter><g filter="url(#eh2b)"><rect x="-10" y="-10" width="120" height="120" fill="#786a48"/><circle cx="12" cy="14" r="14" fill="#7a5a48"/><circle cx="45" cy="8" r="13" fill="#9040a0"/><circle cx="85" cy="14" r="15" fill="#98b040"/><circle cx="60" cy="28" r="11" fill="#a0a840"/><circle cx="25" cy="30" r="10" fill="#a04878"/><circle cx="85" cy="38" r="8" fill="#a040a0"/><circle cx="18" cy="46" r="7" fill="#c03030"/><circle cx="25" cy="58" r="14" fill="#a8c040"/><circle cx="58" cy="50" r="12" fill="#98b040"/><circle cx="84" cy="50" r="8" fill="#901030"/><circle cx="8" cy="76" r="13" fill="#8a2aa0"/><circle cx="40" cy="70" r="9" fill="#504018"/><circle cx="60" cy="82" r="11" fill="#d02040"/><circle cx="45" cy="40" r="8" fill="#b04080"/><circle cx="30" cy="92" r="11" fill="#c03070"/><circle cx="88" cy="84" r="14" fill="#98a040"/><circle cx="70" cy="98" r="8" fill="#9a4a60"/><circle cx="72" cy="65" r="8" fill="#b03060"/></g></svg>
<text transform="translate(925.90 411.10) scale(1.0530 1)" font-family="Liberation Serif" font-weight="normal" font-style="normal" font-size="34.59" fill="#000" style="font-kerning:none" stroke="#000" stroke-width="0.6">2</text>
<path transform="translate(783.7 402.8) scale(0.7037 0.6685)" d="M13.5,1.3 C6,-0.3 0,3.5 0,9.6 C0,15.4 4.6,17.8 8.6,17.8 C10.8,17.8 12.6,16.9 13.2,16.1 L12.7,15.1 C11.6,16 10.3,16.4 9,16.4 C5.8,16.4 3.4,13.8 3.3,9.8 L11.9,9.8 L11.9,7.9 L3.5,7.9 C4.2,4.6 6.8,2.9 10,2.9 C11.6,2.9 12.6,3.1 13.5,3.3 Z" fill="#000"/>
<path transform="translate(873.1 404.4) scale(0.6741 0.5787)" d="M13.5,1.3 C6,-0.3 0,3.5 0,9.6 C0,15.4 4.6,17.8 8.6,17.8 C10.8,17.8 12.6,16.9 13.2,16.1 L12.7,15.1 C11.6,16 10.3,16.4 9,16.4 C5.8,16.4 3.4,13.8 3.3,9.8 L11.9,9.8 L11.9,7.9 L3.5,7.9 C4.2,4.6 6.8,2.9 10,2.9 C11.6,2.9 12.6,3.1 13.5,3.3 Z" fill="#000"/>
<polyline points="874.7,402.4 878.95,398.28 883.2,402.4" fill="none" stroke="#000" stroke-width="1.3"/>
<circle cx="656" cy="102.3" r="31.2" fill="#fff" stroke="#000" stroke-width="3.8"/>
<text transform="translate(630.11 107.22) scale(0.8197 1)" font-family="Liberation Sans" font-weight="bold" font-style="normal" font-size="18.58" fill="#000" style="font-kerning:none" >concat</text>
<line x1="206.3" y1="102.3" x2="237.50" y2="102.30" stroke="#000" stroke-width="2.2" stroke-linecap="round"/><polygon points="247,102.3 236.50,108.10 236.50,96.50" fill="#000"/>
<line x1="330" y1="102.3" x2="360.50" y2="102.30" stroke="#000" stroke-width="2.2" stroke-linecap="round"/><polygon points="370,102.3 359.50,108.10 359.50,96.50" fill="#000"/>
<line x1="451" y1="102.3" x2="613.00" y2="102.30" stroke="#000" stroke-width="2.2" stroke-linecap="round"/><polygon points="622.5,102.3 612.00,108.10 612.00,96.50" fill="#000"/>
<line x1="689" y1="102.3" x2="719.80" y2="102.30" stroke="#000" stroke-width="2.2" stroke-linecap="round"/><polygon points="729.3,102.3 718.80,108.10 718.80,96.50" fill="#000"/>
<line x1="828.3" y1="100.4" x2="859.80" y2="100.40" stroke="#000" stroke-width="2.2" stroke-linecap="round"/><polygon points="869.3,100.4 858.80,106.20 858.80,94.60" fill="#000"/>
<line x1="908" y1="146" x2="908.00" y2="308.00" stroke="#000" stroke-width="2.2" stroke-linecap="round"/><polygon points="908,317.5 902.20,307.00 913.80,307.00" fill="#000"/>
<line x1="206.3" y1="267" x2="237.50" y2="267.00" stroke="#000" stroke-width="2.2" stroke-linecap="round"/><polygon points="247,267 236.50,272.80 236.50,261.20" fill="#000"/>
<line x1="330" y1="267" x2="360.50" y2="267.00" stroke="#000" stroke-width="2.2" stroke-linecap="round"/><polygon points="370,267 359.50,272.80 359.50,261.20" fill="#000"/>
<line x1="452" y1="267" x2="482.50" y2="267.00" stroke="#000" stroke-width="2.2" stroke-linecap="round"/><polygon points="492,267 481.50,272.80 481.50,261.20" fill="#000"/>
<line x1="572.4" y1="267" x2="602.90" y2="267.00" stroke="#000" stroke-width="2.2" stroke-linecap="round"/><polygon points="612.4,267 601.90,272.80 601.90,261.20" fill="#000"/>
<line x1="656" y1="228" x2="656.00" y2="145.80" stroke="#000" stroke-width="2.2" stroke-linecap="round"/><polygon points="656,136.3 661.80,146.80 650.20,146.80" fill="#000"/>
<line x1="532.5" y1="185" x2="532.50" y2="216.80" stroke="#000" stroke-width="2.2" stroke-linecap="round"/><polygon points="532.5,226.3 526.70,215.80 538.30,215.80" fill="#000"/>
<line x1="780" y1="195" x2="780.00" y2="164.50" stroke="#000" stroke-width="2.2" stroke-linecap="round"/><polygon points="780,155 785.80,165.50 774.20,165.50" fill="#000"/>
<line x1="199" y1="431.8" x2="224.10" y2="431.80" stroke="#000" stroke-width="2.2" stroke-linecap="round"/><polygon points="233.6,431.8 223.10,437.60 223.10,426.00" fill="#000"/>
<line x1="342" y1="431.8" x2="360.30" y2="431.80" stroke="#000" stroke-width="2.2" stroke-linecap="round"/><polygon points="369.8,431.8 359.30,437.60 359.30,426.00" fill="#000"/>
<line x1="451.5" y1="431.8" x2="719.90" y2="431.80" stroke="#000" stroke-width="2.2" stroke-linecap="round"/><polygon points="729.4,431.8 718.90,437.60 718.90,426.00" fill="#000"/>
<path d="M512,431.8 Q532.5,431.8 532.5,411 L532.5,317" fill="none" stroke="#000" stroke-width="2.2"/>
<polygon points="532.5,306.7 526.7,317.2 538.3,317.2" fill="#000"/>
<text transform="translate(386.11 49.10) scale(1.0871 1)" font-family="Liberation Serif" font-weight="bold" font-style="normal" font-size="37.04" fill="#000" style="font-kerning:none" >z</text>
<text transform="translate(406.45 29.60) scale(0.9304 1)" font-family="Liberation Serif" font-weight="normal" font-style="normal" font-size="30.55" fill="#000" style="font-kerning:none" >(</text>
<text transform="translate(417.68 29.10) scale(1.1635 1)" font-family="Liberation Serif" font-weight="bold" font-style="normal" font-size="26.80" fill="#000" style="font-kerning:none" >x</text>
<text transform="translate(434.43 29.60) scale(0.9814 1)" font-family="Liberation Serif" font-weight="normal" font-style="normal" font-size="30.55" fill="#000" style="font-kerning:none" >)</text>
<text transform="translate(383.79 213.80) scale(1.1205 1)" font-family="Liberation Serif" font-weight="bold" font-style="normal" font-size="36.82" fill="#000" style="font-kerning:none" >z</text>
<text transform="translate(404.03 193.99) scale(1.0346 1)" font-family="Liberation Serif" font-weight="normal" font-style="normal" font-size="30.11" fill="#000" style="font-kerning:none" >(</text>
<text transform="translate(414.63 193.45) scale(1.2110 1)" font-family="Liberation Serif" font-weight="bold" font-style="normal" font-size="25.87" fill="#000" style="font-kerning:none" >d</text>
<text transform="translate(433.13 193.99) scale(0.9958 1)" font-family="Liberation Serif" font-weight="normal" font-style="normal" font-size="30.11" fill="#000" style="font-kerning:none" >)</text>
<text transform="translate(596.38 206.60) scale(1.1257 1)" font-family="Liberation Serif" font-weight="bold" font-style="normal" font-size="32.90" fill="#000" style="font-kerning:none" >z</text>
<text transform="translate(614.89 216.54) scale(1.0457 1)" font-family="Liberation Serif" font-weight="normal" font-style="italic" font-size="26.36" fill="#000" style="font-kerning:none" >t</text>
<text transform="translate(615.02 188.95) scale(0.9783 1)" font-family="Liberation Serif" font-weight="normal" font-style="normal" font-size="27.46" fill="#000" style="font-kerning:none" >(</text>
<text transform="translate(624.29 188.37) scale(1.1459 1)" font-family="Liberation Serif" font-weight="bold" font-style="normal" font-size="23.88" fill="#000" style="font-kerning:none" >d</text>
<text transform="translate(640.97 188.95) scale(0.9358 1)" font-family="Liberation Serif" font-weight="normal" font-style="normal" font-size="27.46" fill="#000" style="font-kerning:none" >)</text>
<path transform="translate(407.2 357.8) scale(1.0222 0.9888)" d="M13.5,1.3 C6,-0.3 0,3.5 0,9.6 C0,15.4 4.6,17.8 8.6,17.8 C10.8,17.8 12.6,16.9 13.2,16.1 L12.7,15.1 C11.6,16 10.3,16.4 9,16.4 C5.8,16.4 3.4,13.8 3.3,9.8 L11.9,9.8 L11.9,7.9 L3.5,7.9 C4.2,4.6 6.8,2.9 10,2.9 C11.6,2.9 12.6,3.1 13.5,3.3 Z" fill="#000"/>
<path transform="translate(905 31.4) scale(0.9852 1.0056)" d="M13.5,1.3 C6,-0.3 0,3.5 0,9.6 C0,15.4 4.6,17.8 8.6,17.8 C10.8,17.8 12.6,16.9 13.2,16.1 L12.7,15.1 C11.6,16 10.3,16.4 9,16.4 C5.8,16.4 3.4,13.8 3.3,9.8 L11.9,9.8 L11.9,7.9 L3.5,7.9 C4.2,4.6 6.8,2.9 10,2.9 C11.6,2.9 12.6,3.1 13.5,3.3 Z" fill="#000"/>
<polyline points="907,28.7 913.25,22.18 919.5,28.7" fill="none" stroke="#000" stroke-width="1.8"/>
</svg>
<div class="cl" style="top:550.2px;word-spacing:2.08px">Figure 2. <b>Overview of the Marigold fine-tuning protocol.</b> Start-</div>
<div class="cl" style="top:593.5px;word-spacing:2.49px">ing from pretrained Stable Diffusion, we encode the image <b>x</b> and</div>
<div class="cl" style="top:636.9px;word-spacing:4.71px">depth <b>d</b> into the latent space using the original Stable Diffusion</div>
<div class="cl" style="top:680.2px;word-spacing:-0.35px">VAE. We fine-tune just the U-Net by optimizing the standard diffu-</div>
<div class="cl" style="top:723.5px;word-spacing:-0.22px">sion objective relative to the depth latent code. Image conditioning</div>
<div class="cl" style="top:766.9px;word-spacing:3.35px">is achieved by concatenating the two latent codes before feeding</div>
<div class="cl" style="top:810.2px;word-spacing:0.25px">them into the U-Net. The first layer of the U-Net is modified to ac-</div>
<div class="cl" style="top:853.5px;word-spacing:-0.53px">cept concatenated latent codes. See details in Sec. <span class="r">3.2</span> and Sec. <span class="r">3.3</span>.</div>
</div></body></html>
